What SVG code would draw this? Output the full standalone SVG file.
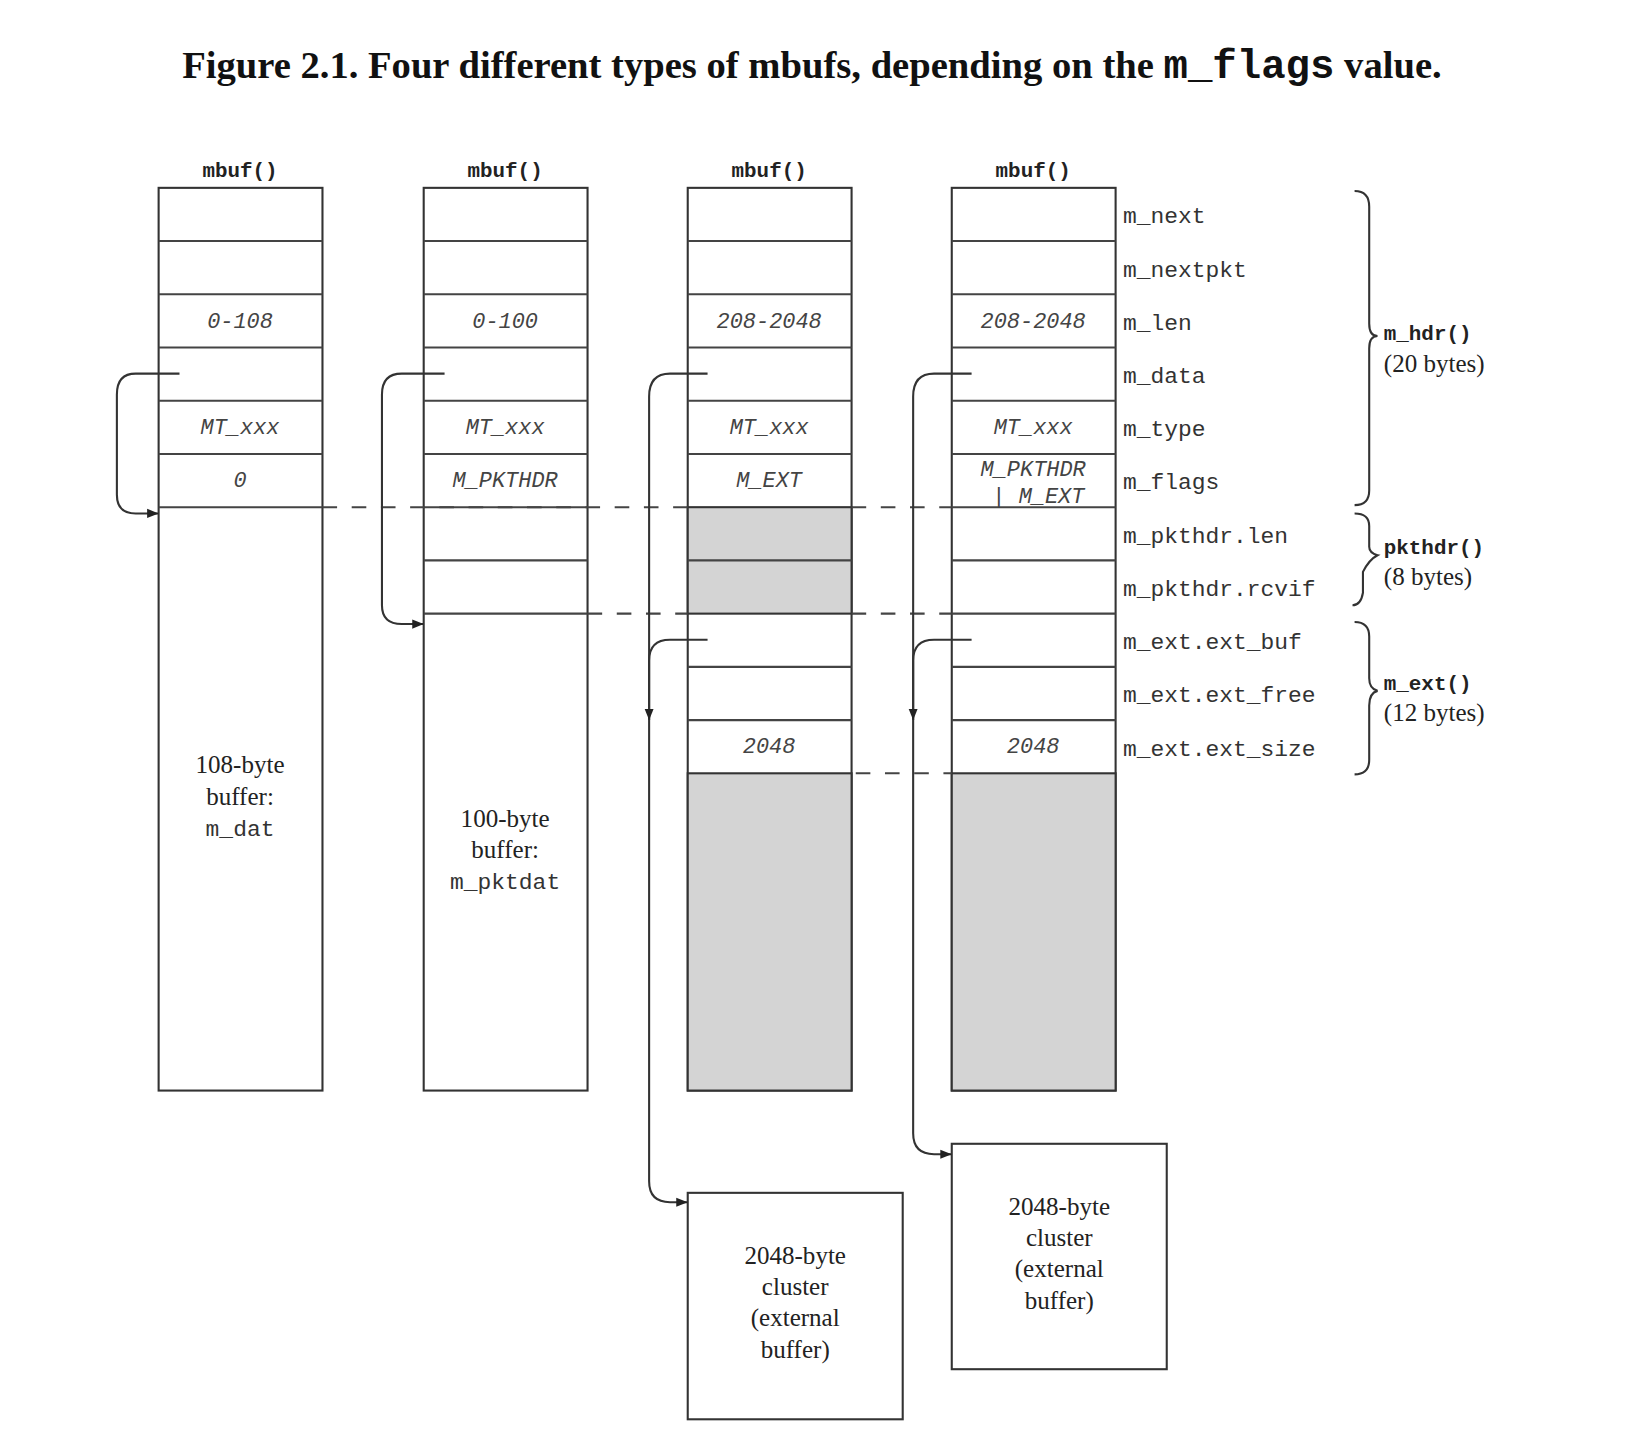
<svg xmlns="http://www.w3.org/2000/svg" width="1628" height="1456" viewBox="0 0 1628 1456">
<defs>
<style>
.b{fill:#fff;stroke:#333;stroke-width:2}
.g{fill:#d4d4d4;stroke:#333;stroke-width:2}
.l{stroke:#444;stroke-width:2}
.d{stroke:#444;stroke-width:2;stroke-dasharray:14 14;fill:none}
.c{stroke:#333;stroke-width:2;fill:none}
.it{font-family:"Liberation Mono",monospace;font-style:italic;font-size:21px;fill:#444;text-anchor:middle}
.m{font-family:"Liberation Mono",monospace;font-size:22px;fill:#333}
.mb{font-family:"Liberation Mono",monospace;font-size:20px;font-weight:bold;fill:#222}
.s{font-family:"Liberation Serif",serif;font-size:24px;fill:#222}
.sc{font-family:"Liberation Serif",serif;font-size:24px;fill:#222;text-anchor:middle}
.mc{font-family:"Liberation Mono",monospace;font-size:22px;fill:#333;text-anchor:middle}
</style>
<marker id="a" viewBox="0 0 10 10" refX="10" refY="5" markerWidth="11" markerHeight="11" orient="auto" markerUnits="userSpaceOnUse"><path d="M0,1L10,5L0,9z" fill="#222"/></marker>
</defs>
<g transform="scale(1.0436)">
<text x="778" y="75" text-anchor="middle" font-family="Liberation Serif,serif" font-weight="bold" font-size="37" fill="#111">Figure 2.1. Four different types of mbufs, depending on the <tspan font-family="Liberation Mono,monospace" font-size="39">m_flags</tspan> value.</text>
<g id="col1">
<text class="mb" x="230" y="170" text-anchor="middle">mbuf()</text>
<rect class="b" x="152" y="180" width="157" height="865"/>
<path class="l" d="M152 231H309M152 282H309M152 333H309M152 384H309M152 435H309M152 486H309"/>
<text class="it" x="230" y="314">0-108</text><text class="it" x="230" y="416">MT_xxx</text><text class="it" x="230" y="467">0</text>
<text class="sc" x="230" y="741">108-byte</text><text class="sc" x="230" y="771">buffer:</text><text class="mc" x="230" y="801">m_dat</text>
</g>
<g id="col2">
<text class="mb" x="484" y="170" text-anchor="middle">mbuf()</text>
<rect class="b" x="406" y="180" width="157" height="865"/>
<path class="l" d="M406 231H563M406 282H563M406 333H563M406 384H563M406 435H563M406 486H563M406 537H563M406 588H563"/>
<text class="it" x="484" y="314">0-100</text><text class="it" x="484" y="416">MT_xxx</text><text class="it" x="484" y="467">M_PKTHDR</text>
<text class="sc" x="484" y="792">100-byte</text><text class="sc" x="484" y="822">buffer:</text><text class="mc" x="484" y="852">m_pktdat</text>
</g>
<g id="col3">
<text class="mb" x="737" y="170" text-anchor="middle">mbuf()</text>
<rect class="b" x="659" y="180" width="157" height="865"/>
<rect class="g" x="659" y="486" width="157" height="102"/>
<rect class="g" x="659" y="741" width="157" height="304"/>
<path class="l" d="M659 231H816M659 282H816M659 333H816M659 384H816M659 435H816M659 537H816M659 639H816M659 690H816"/>
<text class="it" x="737" y="314">208-2048</text><text class="it" x="737" y="416">MT_xxx</text><text class="it" x="737" y="467">M_EXT</text><text class="it" x="737" y="722">2048</text>
</g>
<g id="col4">
<text class="mb" x="990" y="170" text-anchor="middle">mbuf()</text>
<rect class="b" x="912" y="180" width="157" height="865"/>
<rect class="g" x="912" y="741" width="157" height="304"/>
<path class="l" d="M912 231H1069M912 282H1069M912 333H1069M912 384H1069M912 435H1069M912 486H1069M912 537H1069M912 588H1069M912 639H1069M912 690H1069"/>
<text class="it" x="990" y="314">208-2048</text><text class="it" x="990" y="416">MT_xxx</text>
<text class="it" x="990" y="456" font-size="16">M_PKTHDR</text><text class="it" x="995" y="482" font-size="16">| M_EXT</text><text class="it" x="990" y="722">2048</text>
</g>
<g id="labels">
<text class="m" x="1076" y="214">m_next</text><text class="m" x="1076" y="265">m_nextpkt</text><text class="m" x="1076" y="316">m_len</text><text class="m" x="1076" y="367">m_data</text><text class="m" x="1076" y="418">m_type</text><text class="m" x="1076" y="469">m_flags</text><text class="m" x="1076" y="520">m_pkthdr.len</text><text class="m" x="1076" y="571">m_pkthdr.rcvif</text><text class="m" x="1076" y="622">m_ext.ext_buf</text><text class="m" x="1076" y="673">m_ext.ext_free</text><text class="m" x="1076" y="724">m_ext.ext_size</text>
<path class="c" d="M1298 183Q1312 183 1312 198V310Q1312 322 1320 322Q1312 322 1312 334V470Q1312 484 1298 484"/>
<text class="mb" x="1326" y="326">m_hdr()</text><text class="s" x="1326" y="356">(20 bytes)</text>
<path class="c" d="M1298 492Q1312 492 1312 504V524Q1312 530 1320 532Q1312 536 1306 548V568Q1304 580 1296 580"/>
<text class="mb" x="1326" y="531">pkthdr()</text><text class="s" x="1326" y="561">(8 bytes)</text>
<path class="c" d="M1298 596Q1312 596 1312 610V650Q1312 660 1320 662Q1312 664 1312 676V728Q1312 742 1298 742"/>
<text class="mb" x="1326" y="661">m_ext()</text><text class="s" x="1326" y="691">(12 bytes)</text>
</g>
<g id="clusters">
<rect class="b" x="659" y="1143" width="206" height="217"/>
<text class="sc" x="762" y="1211">2048-byte</text><text class="sc" x="762" y="1241">cluster</text><text class="sc" x="762" y="1271">(external</text><text class="sc" x="762" y="1301">buffer)</text>
<rect class="b" x="912" y="1096" width="206" height="216"/>
<text class="sc" x="1015" y="1164">2048-byte</text><text class="sc" x="1015" y="1194">cluster</text><text class="sc" x="1015" y="1224">(external</text><text class="sc" x="1015" y="1254">buffer)</text>
</g>
<g id="connectors">
<path class="d" d="M309 486H659M816 486H912"/>
<path class="d" d="M563 588H659M816 588H912"/>
<path class="d" d="M820 741H912"/>
<path class="c" marker-end="url(#a)" d="M172 358H130Q112 358 112 378V474Q112 492 130 492H152"/>
<path class="c" marker-end="url(#a)" d="M426 358H385Q366 358 366 378V580Q366 598 385 598H406"/>
<path class="c" marker-end="url(#a)" d="M678 358H642Q622 358 622 380V1132Q622 1152 642 1152H659"/>
<path class="c" marker-end="url(#a)" d="M678 613H642Q622 613 622 633V690"/>
<path class="c" marker-end="url(#a)" d="M931 358H895Q875 358 875 380V1086Q875 1106 895 1106H912"/>
<path class="c" marker-end="url(#a)" d="M931 613H895Q875 613 875 633V690"/>
</g>
</g>
</svg>
